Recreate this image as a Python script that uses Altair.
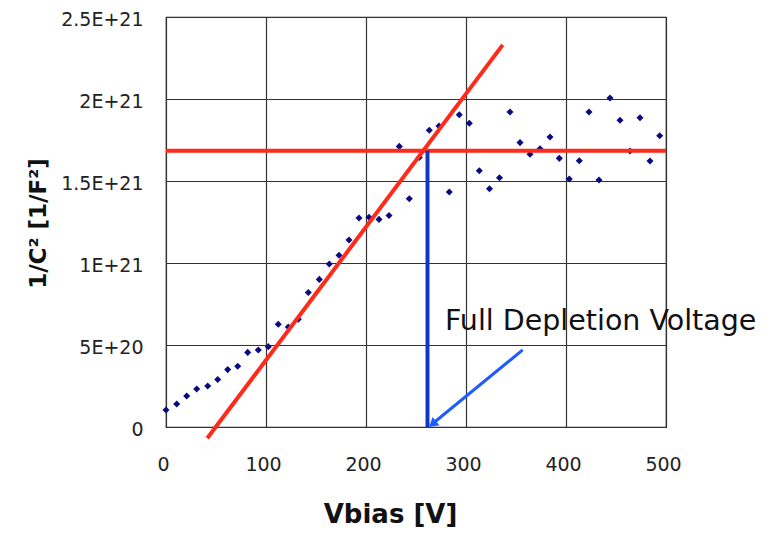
import altair as alt
import pandas as pd

# Measured data: bias voltage [V] and 1/C^2 [1/F^2]
vbias = [0, 10.7, 20.7, 30.7, 41.7, 51.7, 61.7, 71.7, 81.7, 92.3,
         102.3, 112.3, 122.3, 132.3, 142.3, 153.3, 163.3, 173, 183, 193,
         203, 213, 223, 233.3, 243.3, 253.3, 263.3, 273, 283.3, 293.3,
         303.3, 313.3, 323.5, 333.5, 344, 354, 364, 374, 384, 393.3,
         403.3, 413.3, 423, 433, 444, 454, 464, 474, 484, 493.7]
inv_c2 = [0.104e21, 0.14e21, 0.189e21, 0.232e21, 0.25e21, 0.29e21, 0.35e21, 0.37e21, 0.455e21, 0.47e21,
          0.49e21, 0.626e21, 0.61e21, 0.657e21, 0.82e21, 0.90e21, 0.994e21, 1.047e21, 1.14e21, 1.274e21,
          1.279e21, 1.266e21, 1.29e21, 1.711e21, 1.392e21, 1.644e21, 1.809e21, 1.835e21, 1.433e21, 1.904e21,
          1.852e21, 1.563e21, 1.453e21, 1.52e21, 1.921e21, 1.734e21, 1.663e21, 1.697e21, 1.768e21, 1.638e21,
          1.512e21, 1.624e21, 1.921e21, 1.506e21, 2.006e21, 1.87e21, 1.683e21, 1.886e21, 1.622e21, 1.776e21]

# Linear fit line (rising part) endpoints
fit_v = [41.3, 336.7]
fit_y = [-0.069e21, 2.33e21]

# Plateau level and full depletion voltage
plateau_v = [0, 500]
plateau_y = [1.685e21, 1.685e21]
depletion_v = [261.5, 261.5]
depletion_y = [0, 1.685e21]

# Annotation arrow and label
arrow_v = [356.7, 266.5]
arrow_y = [0.47e21, 0.02e21]
head_v = [266.5]
head_y = [0.018e21]
label_v = [279]
label_y = [0.591e21]
label_text = ["Full Depletion Voltage"]

pts = pd.DataFrame({"v": vbias, "c": inv_c2})
fit = pd.DataFrame({"v": fit_v, "c": fit_y})
plat = pd.DataFrame({"v": plateau_v, "c": plateau_y})
dep = pd.DataFrame({"v": depletion_v, "c": depletion_y})
arr = pd.DataFrame({"v": arrow_v, "c": arrow_y})
head = pd.DataFrame({"v": head_v, "c": head_y})
lab = pd.DataFrame({"v": label_v, "c": label_y, "t": label_text})

xs = alt.Scale(domain=[0, 500], nice=False, zero=False)
ys = alt.Scale(domain=[0, 2.5e21], nice=False, zero=False)

x_axis = alt.Axis(values=[0, 100, 200, 300, 400, 500], title="Vbias [V]",
                  grid=True, ticks=False, domain=False,
                  labelFont="DejaVu Sans", labelFontSize=19, labelColor="#222222",
                  labelPadding=28, labelOffset=-3, labelFlush=False,
                  titleFont="DejaVu Sans", titleFontSize=26, titleFontWeight="bold",
                  titleColor="#111111", titleX=224, titleY=95, titleBaseline="alphabetic")
y_axis = alt.Axis(values=[0, 5e20, 1e21, 1.5e21, 2e21, 2.5e21], title="1/C² [1/F²]",
                  grid=True, ticks=False, domain=False,
                  labelExpr="datum.value == 0 ? '0' : upper(format(datum.value, '.1~e'))",
                  labelFont="DejaVu Sans", labelFontSize=19, labelColor="#222222",
                  labelPadding=23, labelOffset=2, labelFlush=False,
                  titleFont="DejaVu Sans", titleFontSize=23, titleFontWeight="bold",
                  titleColor="#111111", titleX=-128, titleY=206, titleBaseline="middle",
                  titleAngle=-90, titleAlign="center")

X = alt.X("v:Q", scale=xs, axis=x_axis)
Y = alt.Y("c:Q", scale=ys, axis=y_axis)
Xn = alt.X("v:Q", scale=xs)
Yn = alt.Y("c:Q", scale=ys)

points = alt.Chart(pts).mark_point(filled=True, shape="diamond", size=50,
                                   color="#0a0a80", opacity=1).encode(x=X, y=Y)
fit_line = alt.Chart(fit).mark_line(color="#ff2a1a", strokeWidth=4, clip=False).encode(x=Xn, y=Yn)
plat_line = alt.Chart(plat).mark_line(color="#ff2a1a", strokeWidth=4, clip=False).encode(x=Xn, y=Yn)
dep_line = alt.Chart(dep).mark_line(color="#1238c0", strokeWidth=4).encode(x=Xn, y=Yn)
arrow_line = alt.Chart(arr).mark_line(color="#1f5cff", strokeWidth=3).encode(x=Xn, y=Yn)
arrow_head = alt.Chart(head).mark_point(shape="triangle-up", filled=True, size=110,
                                        angle=230, color="#1f5cff", opacity=1).encode(x=Xn, y=Yn)
label = alt.Chart(lab).mark_text(align="left", baseline="alphabetic", font="DejaVu Sans",
                                 fontSize=28.5, color="#111111").encode(x=Xn, y=Yn, text="t:N")

chart = alt.layer(points, fit_line, plat_line, dep_line, arrow_line, arrow_head, label).properties(
    width=500, height=410,
    autosize=alt.AutoSizeParams(type="none"),
    padding={"left": 158, "top": 9, "right": 106, "bottom": 102},
    background="white",
).configure_view(stroke="#222222", strokeWidth=1.2).configure_axis(
    gridColor="#333333", gridWidth=1.2, gridOpacity=1)

chart.save("out.html", embed_options={"renderer": "svg", "actions": False})
